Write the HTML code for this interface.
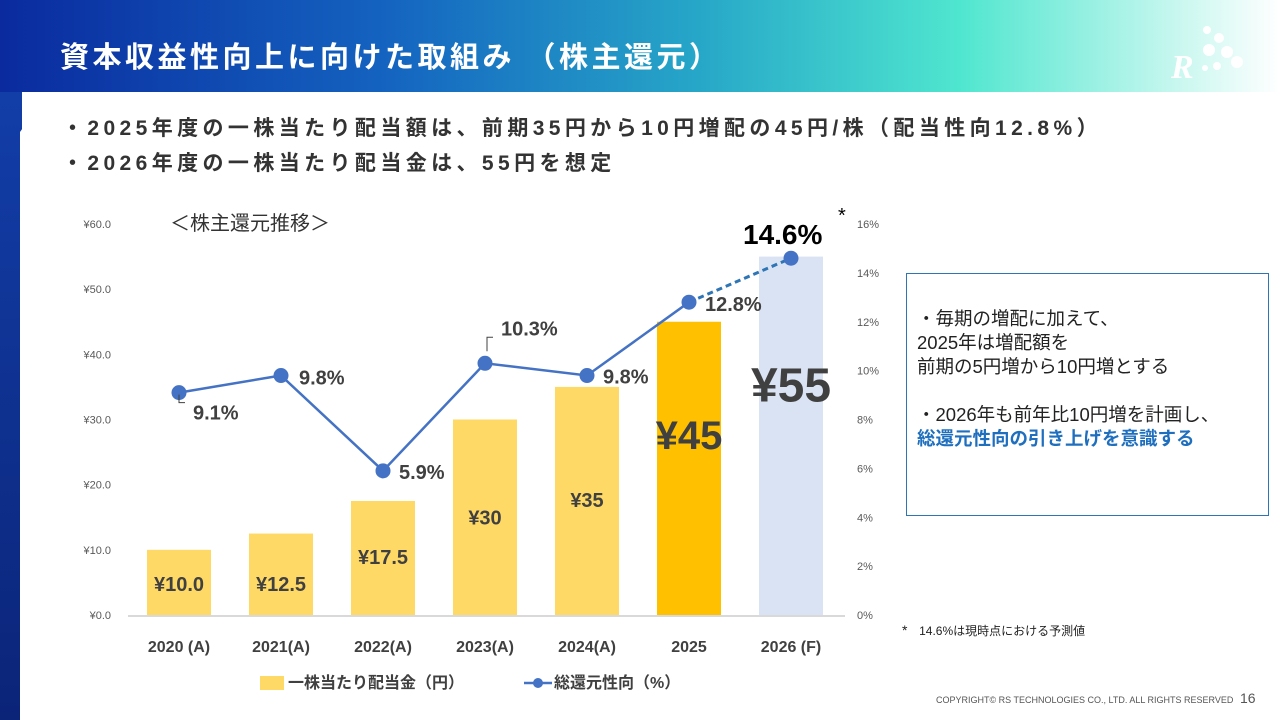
<!DOCTYPE html>
<html><head><meta charset="utf-8">
<style>
body{margin:0;width:1280px;height:720px;overflow:hidden;position:relative;background:#fff;font-family:"Liberation Sans","Noto Sans CJK JP",sans-serif;}
#hdr{position:absolute;left:0;top:0;width:1280px;height:92px;background:linear-gradient(90deg,#0a2a9e 0%,#1463c0 30%,#27a8c8 55%,#4fe6cf 75%,#c8f7ef 92%,#ffffff 100%);}
#strip{position:absolute;left:0;top:92px;width:22px;height:628px;background:linear-gradient(180deg,#123ea8,#0b2478);}
#panel{position:absolute;left:20px;top:92px;width:1260px;height:628px;background:#fff;clip-path:polygon(28px 0,100% 0,100% 100%,0 100%,0 40px);}
#title{position:absolute;left:60px;top:34px;color:#fff;font-size:29px;font-weight:bold;letter-spacing:3.5px;}
.bul{position:absolute;left:62px;font-size:21px;font-weight:bold;color:#333;letter-spacing:4.4px;}
#note{position:absolute;left:906px;top:273px;width:363px;height:243px;border:1px solid #2e75b6;box-sizing:border-box;font-size:18.5px;color:#222;padding:33px 0 0 10px;line-height:24px;}
</style></head><body>
<div id="hdr"></div>
<div id="strip"></div>
<div id="panel"></div>
<div id="title">資本収益性向上に向けた取組み （株主還元）</div>
<svg style="position:absolute;left:1165px;top:20px" width="90" height="65">
<text x="6" y="58" font-family="Liberation Serif" font-style="italic" font-weight="bold" font-size="34" fill="#fff">R</text>
<circle cx="42" cy="10" r="4" fill="#fff"/><circle cx="54" cy="18" r="5" fill="#fff"/><circle cx="44" cy="30" r="6" fill="#fff"/><circle cx="62" cy="32" r="6" fill="#fff"/><circle cx="72" cy="42" r="6" fill="#fff"/><circle cx="40" cy="48" r="3" fill="#fff"/><circle cx="52" cy="46" r="4" fill="#fff"/>
</svg>
<div class="bul" style="top:112px">・2025年度の一株当たり配当額は、前期35円から10円増配の45円/株（配当性向12.8%）</div>
<div class="bul" style="top:147px">・2026年度の一株当たり配当金は、55円を想定</div>
<div id="note">・毎期の増配に加えて、<br>2025年は増配額を<br>前期の5円増から10円増とする<br><br>・2026年も前年比10円増を計画し、<br><span style="color:#1f6fbf;font-weight:bold">総還元性向の引き上げを意識する</span></div>
<div style="position:absolute;left:902px;top:622px;font-size:14px;color:#222">*&nbsp;&nbsp;&nbsp;<span style="font-size:12px">14.6%は現時点における予測値</span></div>
<div style="position:absolute;left:936px;top:695px;font-size:9px;color:#555">COPYRIGHT© RS TECHNOLOGIES CO., LTD. ALL RIGHTS RESERVED</div>
<div style="position:absolute;left:1240px;top:690px;font-size:14px;color:#555">16</div>
<svg id="chart" style="position:absolute;left:0;top:0" width="1280" height="720"></svg>
<script>
const categories=["2020 (A)","2021(A)","2022(A)","2023(A)","2024(A)","2025","2026 (F)"];
const dividends=[10,12.5,17.5,30,35,45,55];
const dividendLabels=["¥10.0","¥12.5","¥17.5","¥30","¥35","¥45","¥55"];
const payout=[9.1,9.8,5.9,10.3,9.8,12.8,14.6];
const payoutLabels=["9.1%","9.8%","5.9%","10.3%","9.8%","12.8%","14.6%"];
const leftTicks=[0,10,20,30,40,50,60];
const rightTicks=[0,2,4,6,8,10,12,14,16];
const NS="http://www.w3.org/2000/svg";
const svg=document.getElementById('chart');
const y0=615,yTop=224;
const yL=v=>y0-(v/60)*(y0-yTop);
const yR=v=>y0-(v/16)*(y0-yTop);
const xC=i=>179+i*102;
function mk(t,a,p){const e=document.createElementNS(NS,t);for(const k in a)e.setAttribute(k,a[k]);(p||svg).appendChild(e);return e;}
const FS='"Liberation Sans","Noto Sans CJK JP",sans-serif';
leftTicks.forEach(v=>{const t=mk('text',{x:111,y:yL(v)+4,'text-anchor':'end','font-size':11,fill:'#595959','font-family':FS});t.textContent='¥'+v.toFixed(1);

});
rightTicks.forEach(v=>{const t=mk('text',{x:857,y:yR(v)+4,'font-size':11,fill:'#595959','font-family':FS});t.textContent=v+'%';

});
const colors=['#ffd966','#ffd966','#ffd966','#ffd966','#ffd966','#ffc000','#dae3f3'];
dividends.forEach((v,i)=>{const r=mk('rect',{x:xC(i)-32,y:yL(v),width:64,height:y0-yL(v),fill:colors[i]});


const c=mk('text',{x:xC(i),'text-anchor':'middle','font-weight':'bold',fill:'#404040','font-family':FS});


c.setAttribute('x',xC(i));c.setAttribute('y',652);c.setAttribute('font-size',16);c.textContent=categories[i];});
dividends.forEach((v,i)=>{let y,fs;
if(i==5){y=yL(v)+127;fs=40;}else if(i==6){y=yL(v)+145;fs=48;}else{y=Math.min(yL(v)+60,y0-24);fs=20; if(i>=3)y=yL(v)+ (i==3?105:120); if(i==2)y=yL(v)+63;}
const t=mk('text',{x:xC(i),y:y,'text-anchor':'middle','font-size':fs,'font-weight':'bold',fill:'#404040','font-family':FS});t.textContent=dividendLabels[i];

});
mk('line',{x1:128,y1:y0+1,x2:845,y2:y0+1,stroke:'#d9d9d9','stroke-width':2});
let d='';for(let i=0;i<6;i++)d+=(i?'L':'M')+xC(i)+' '+yR(payout[i]);
const ln=mk('path',{d:d,fill:'none',stroke:'#4472c4','stroke-width':2.5});


const dl=mk('line',{x1:xC(5),y1:yR(payout[5]),x2:xC(6),y2:yR(payout[6]),stroke:'#2e75b6','stroke-width':3,'stroke-dasharray':'6 4'});


payout.forEach((v,i)=>{const c=mk('circle',{cx:xC(i),cy:yR(v),r:7.5,fill:'#4472c4'});

});
const off=[[14,27],[18,9],[16,8],[16,-28],[16,8],[16,9],[8,-14]];
payout.forEach((v,i)=>{const fs=i==6?28:20;const t=mk('text',{x:xC(i)+off[i][0]-(i==6?56:0),y:yR(v)+off[i][1],'font-size':fs,'font-weight':'bold',fill:i==6?'#000':'#404040','font-family':FS});t.textContent=payoutLabels[i];

});
mk('path',{d:`M${xC(0)} ${yR(payout[0])+2}v8h6`,stroke:'#404040',fill:'none'});
mk('path',{d:`M${xC(3)+2} ${yR(payout[3])-12}v-14h6`,stroke:'#404040',fill:'none'});
const st=mk('text',{x:838,y:222,'font-size':20,fill:'#000','font-family':FS});st.textContent='*';
const ti=mk('text',{x:170,y:230,'font-size':20,fill:'#333','font-family':FS});ti.textContent='＜株主還元推移＞';


const lg=mk('g',{});

mk('rect',{x:260,y:676,width:24,height:14,fill:'#ffd966'},lg);
const l1=mk('text',{x:288,y:688,'font-size':16,'font-weight':'bold',fill:'#404040','font-family':FS},lg);l1.textContent='一株当たり配当金（円）';
mk('line',{x1:524,y1:683,x2:552,y2:683,stroke:'#4472c4','stroke-width':2.5},lg);
mk('circle',{cx:538,cy:683,r:5,fill:'#4472c4'},lg);
const l2=mk('text',{x:554,y:688,'font-size':16,'font-weight':'bold',fill:'#404040','font-family':FS},lg);l2.textContent='総還元性向（%）';
</script>
</body></html>
